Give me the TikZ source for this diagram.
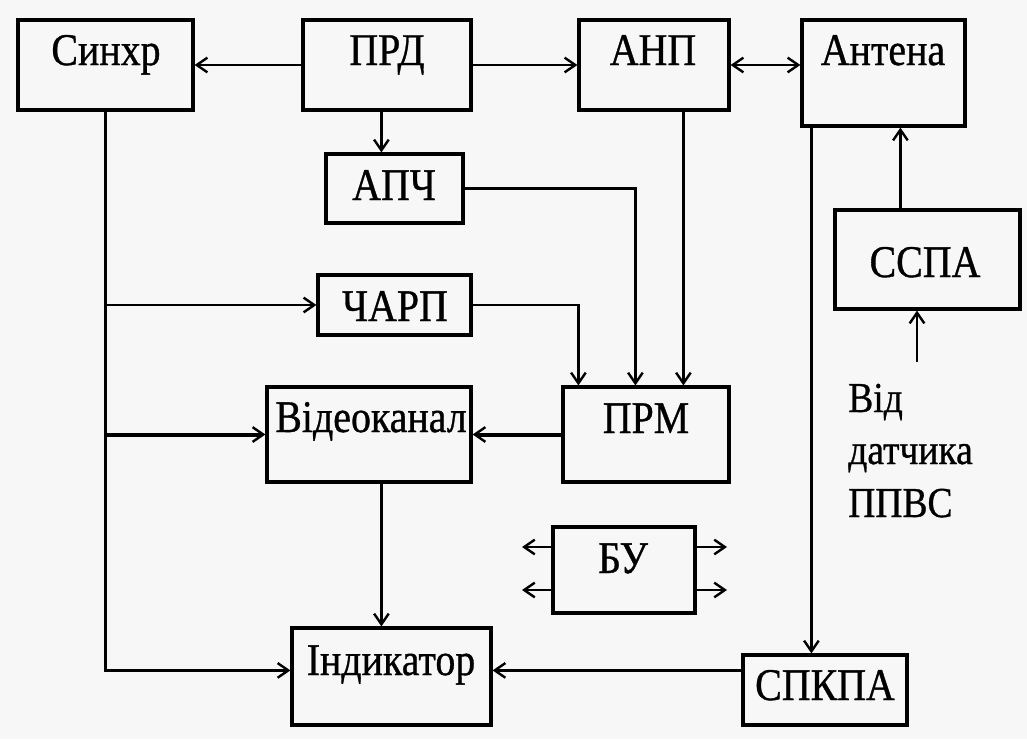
\documentclass[tikz,border=0pt]{standalone}
\usepackage{fontspec}
\setmainfont{Liberation Serif}[FakeBold=0.8]
\usetikzlibrary{arrows.meta,fit,calc}
\newcommand\hsq[1]{\scalebox{0.88}[1]{#1}}
\definecolor{bgc}{RGB}{247,247,247}
\begin{document}
\begin{tikzpicture}[x=0.75pt,y=-0.75pt,
  box/.style={draw, line width=2.4pt, inner sep=0pt},
  lbl/.style={font=\fontsize{34}{40}\selectfont, anchor=base, inner sep=0pt},
  side/.style={font=\fontsize{32}{38}\selectfont, anchor=base west, inner sep=0pt},
  tip/.style={Straight Barb[length=8pt,width=11pt,line width=1.8pt]},
  arr/.style={line width=1.8pt, -{Straight Barb[length=8pt,width=11pt,line width=1.8pt]}},
  darr/.style={line width=1.8pt, {Straight Barb[length=8pt,width=11pt,line width=1.8pt]}-{Straight Barb[length=8pt,width=11pt,line width=1.8pt]}},
  thickarr/.style={arr, line width=3pt}
]
\fill[bgc] (0,0) rectangle (1027,739);
\useasboundingbox (0,0) rectangle (1027,739);

% boxes
\node[box, fit={(18,20)(193,110)}] (sinhr) {};
\node[lbl] (sinhr-t) at (106,65) {\hsq{Синхр}};
\node[box, fit={(303,20)(471,110)}] (prd) {};
\node[lbl] (prd-t) at (387,65) {\hsq{ПРД}};
\node[box, fit={(579,20)(729,110)}] (anp) {};
\node[lbl] (anp-t) at (653,65) {\hsq{АНП}};
\node[box, fit={(802,20)(965,126)}] (antena) {};
\node[lbl] (antena-t) at (883,65) {\hsq{Антена}};
\node[box, fit={(326,154)(463,223)}] (apch) {};
\node[lbl] (apch-t) at (394,200) {\hsq{АПЧ}};
\node[box, fit={(835,210)(1020,309)}] (sspa) {};
\node[lbl] (sspa-t) at (925,277) {\hsq{ССПА}};
\node[box, fit={(318,275)(471,335)}] (charp) {};
\node[lbl] (charp-t) at (395,321) {\hsq{ЧАРП}};
\node[box, fit={(267,387)(471,482)}] (video) {};
\node[lbl] (video-t) at (371,432) {\hsq{Відеоканал}};
\node[box, fit={(563,387)(729,482)}] (prm) {};
\node[lbl] (prm-t) at (646,433) {\hsq{ПРМ}};
\node[box, fit={(553,527)(695,613)}] (bu) {};
\node[lbl] (bu-t) at (623,573) {\hsq{БУ}};
\node[box, fit={(292,628)(491,725)}] (indik) {};
\node[lbl] (indik-t) at (391,675) {\hsq{Індикатор}};
\node[box, fit={(743,655)(907,725)}] (spkpa) {};
\node[lbl] (spkpa-t) at (825,700) {\hsq{СПКПА}};

\node[side] (ppvs1) at (848,412) {\hsq{Від}};
\node[side] (ppvs2) at (848,464) {\hsq{датчика}};
\node[side] (ppvs3) at (848,517) {\hsq{ППВС}};

% connectors
\draw[arr] (prd.west) -- (sinhr.east);
\draw[arr] (prd.east) -- (anp.west);
\draw[darr] (anp.east) -- (anp.east -| antena.west);
\draw[arr] ($(prd.south west)+(80,0)$) coordinate (c1) -- (c1 |- apch.north);

\draw[arr] (apch.east) -| ($(prm.north west)+(74,0)$);
\draw[arr] (charp.east) -| ($(prm.north west)+(17,0)$);
\draw[arr] ($(anp.south west)+(106,0)$) coordinate (c2) -- (c2 |- prm.north);

\draw[arr] (sinhr.south) |- ($(indik.north west)+(0,44)$) coordinate (c3);
\draw[arr] (sinhr.south |- charp.west) -- (charp.west);
\draw[thickarr] (sinhr.south |- video.west) -- (video.west);
\draw[thickarr] (prm.west) -- (video.east);
\draw[arr] ($(video.south west)+(116,0)$) coordinate (c4) -- (c4 |- indik.north);

\draw[arr] ($(antena.south west)+(11,0)$) coordinate (c5) -- (c5 |- spkpa.north);
\draw[arr] ($(spkpa.north west)+(0,17)$) coordinate (c6) -- (c6 -| indik.east);
\draw[arr] ($(sspa.north west)+(67,0)$) coordinate (c7) -- (c7 |- antena.south);
\coordinate (c8) at (917,362);
\draw[arr] (c8) -- (c8 |- sspa.south);

% БУ outputs
\coordinate (bl1) at (522,547);
\coordinate (bl2) at (522,590);
\coordinate (br1) at (727,547);
\coordinate (br2) at (727,590);
\draw[arr] (bl1 -| bu.west) -- (bl1);
\draw[arr] (bl2 -| bu.west) -- (bl2);
\draw[arr] (br1 -| bu.east) -- (br1);
\draw[arr] (br2 -| bu.east) -- (br2);
\end{tikzpicture}
\end{document}
